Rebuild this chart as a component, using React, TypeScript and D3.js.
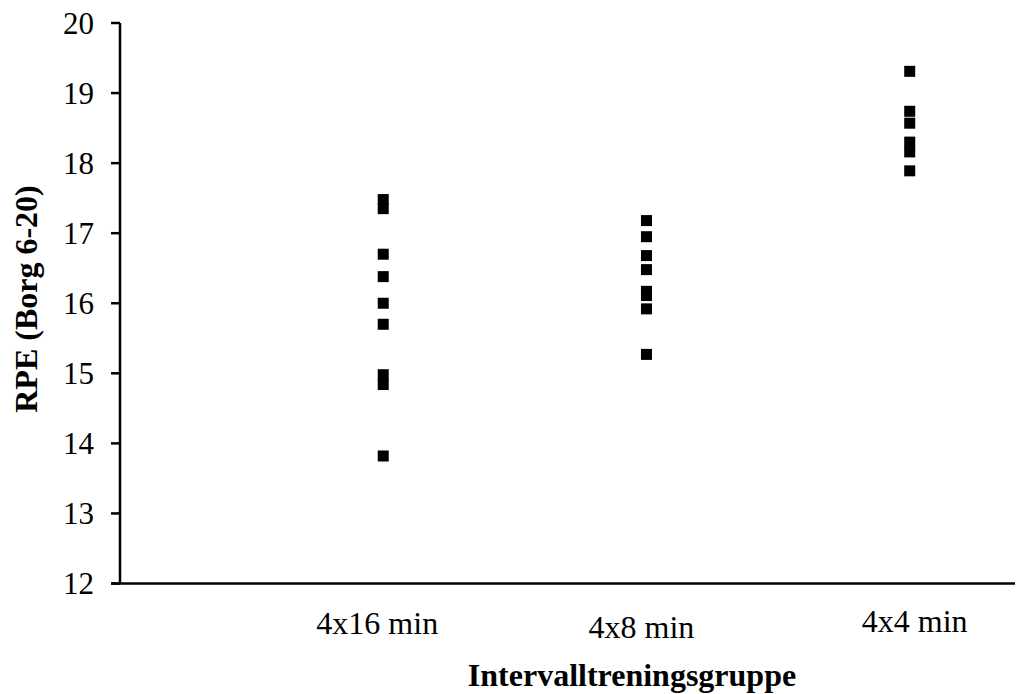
import React from "react";
import * as d3 from "d3";

// Groups and RPE values per participant
const groups = ["4x16 min", "4x8 min", "4x4 min"];
const rpe4x16 = [17.48, 17.35, 16.7, 16.38, 16.0, 15.7, 14.98, 14.84, 13.82];
const rpe4x8 = [17.18, 16.95, 16.68, 16.48, 16.17, 16.11, 15.92, 15.27];
const rpe4x4 = [19.31, 18.74, 18.57, 18.3, 18.16, 17.89];
const yTicks = [12, 13, 14, 15, 16, 17, 18, 19, 20];

const W = 1017;
const H = 694;
const FONT = "'Liberation Serif', 'Times New Roman', serif";

export default function App() {
  const series = [rpe4x16, rpe4x8, rpe4x4];
  const x0 = 120;
  const x = d3.scaleLinear().domain([0, 3.4]).range([x0, 1015]);
  const y = d3.scaleLinear().domain([12, 20]).range([583.5, 23]);
  const m = 11;
  // group labels sit in loose text boxes: small shifts from each column
  const labelShiftX = [-6, -5, 5];
  const labelBase = [634, 638, 632];

  return (
    <svg
      width={W}
      height={H}
      style={{ position: "absolute", left: 0, top: 0, background: "#fff" }}
    >
      {/* y axis */}
      <line x1={x0} x2={x0} y1={y(20)} y2={y(12)} stroke="#000" strokeWidth={2.5} />
      {yTicks.map((t) => (
        <g key={t}>
          <line x1={x0 - 9} x2={x0} y1={y(t)} y2={y(t)} stroke="#000" strokeWidth={2.5} />
          <text
            x={94}
            y={y(t)}
            dy="0.34em"
            textAnchor="end"
            fontFamily={FONT}
            fontSize={31}
            fill="#000"
          >
            {t}
          </text>
        </g>
      ))}
      {/* x axis */}
      <line x1={x0 - 9} x2={x(3.4)} y1={y(12)} y2={y(12)} stroke="#000" strokeWidth={2.5} />

      {/* points */}
      {series.map((vals, gi) =>
        vals.map((v, i) => (
          <rect
            key={`${gi}-${i}`}
            x={x(gi + 1) - m / 2}
            y={y(v) - m / 2}
            width={m}
            height={m}
            fill="#000"
          />
        ))
      )}

      {/* group labels */}
      {groups.map((g, gi) => (
        <text
          key={g}
          x={x(gi + 1) + labelShiftX[gi]}
          y={labelBase[gi]}
          textAnchor="middle"
          fontFamily={FONT}
          fontSize={32}
          fill="#000"
        >
          {g}
        </text>
      ))}

      {/* axis titles */}
      <text
        x={632}
        y={686}
        textAnchor="middle"
        fontFamily={FONT}
        fontSize={32}
        fontWeight="bold"
        fill="#000"
      >
        Intervalltreningsgruppe
      </text>
      <text
        transform={`translate(37, 299) rotate(-90)`}
        textAnchor="middle"
        fontFamily={FONT}
        fontSize={32}
        fontWeight="bold"
        fill="#000"
      >
        RPE (Borg 6-20)
      </text>
    </svg>
  );
}
